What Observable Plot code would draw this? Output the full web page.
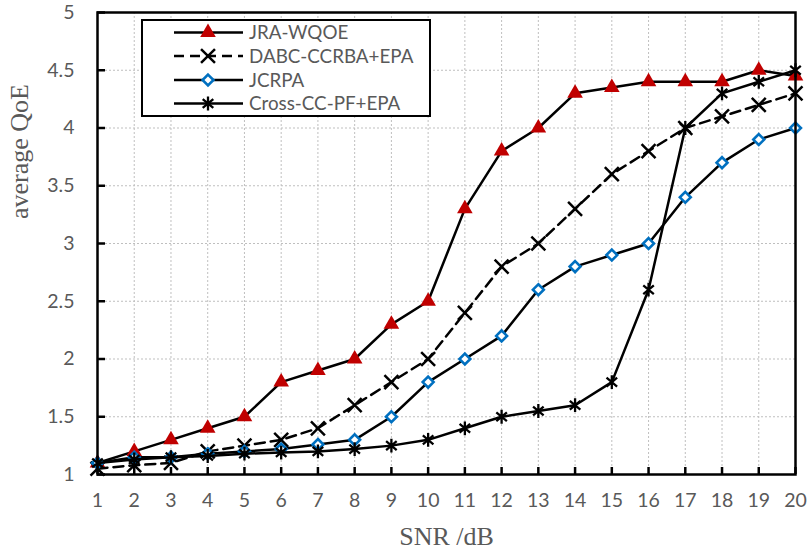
<!DOCTYPE html>
<html>
<head>
<meta charset="utf-8">
<script src="https://cdn.jsdelivr.net/npm/d3@7"></script>
<script src="https://cdn.jsdelivr.net/npm/@observablehq/plot@0.6"></script>
<style>
  html, body { margin: 0; padding: 0; background: #fff; }
</style>
</head>
<body>
<div id="chart"></div>
<script>
// ---- data ----
const snr = [1,2,3,4,5,6,7,8,9,10,11,12,13,14,15,16,17,18,19,20];
const jraWqoe   = [1.10,1.20,1.30,1.40,1.50,1.80,1.90,2.00,2.30,2.50,3.30,3.80,4.00,4.30,4.35,4.40,4.40,4.40,4.50,4.45];
const dabcCcrba = [1.05,1.08,1.10,1.20,1.25,1.30,1.40,1.60,1.80,2.00,2.40,2.80,3.00,3.30,3.60,3.80,4.00,4.10,4.20,4.30];
const jcrpa     = [1.10,1.15,1.15,1.18,1.20,1.22,1.26,1.30,1.50,1.80,2.00,2.20,2.60,2.80,2.90,3.00,3.40,3.70,3.90,4.00];
const crossCc   = [1.10,1.13,1.15,1.16,1.18,1.19,1.20,1.22,1.25,1.30,1.40,1.50,1.55,1.60,1.80,2.60,4.00,4.30,4.40,4.50];
const seriesNames = ["JRA-WQOE","DABC-CCRBA+EPA","JCRPA","Cross-CC-PF+EPA"];
const xTicks = [1,2,3,4,5,6,7,8,9,10,11,12,13,14,15,16,17,18,19,20];
const yTicks = [1,1.5,2,2.5,3,3.5,4,4.5,5];
const xLabel = "SNR /dB";
const yLabel = "average QoE";

// ---- styles ----
const W = 807, H = 557, mL = 97, mR = 12, mT = 12, mB = 83;
const plotW = W - mL - mR, plotH = H - mT - mB;
const gray = "#595959";
const sans = "Lato, 'Open Sans', sans-serif";
const serif = "'Liberation Serif', 'DejaVu Serif', serif";

// asterisk: vertical stroke plus two diagonals
const asteriskSym = {
  draw(context, size) {
    const r = Math.sqrt(size) * 0.59;
    const a = 40 * Math.PI / 180;
    const cx = r * Math.cos(a), cy = r * Math.sin(a);
    context.moveTo(0, -r); context.lineTo(0, r);
    context.moveTo(-cx, -cy); context.lineTo(cx, cy);
    context.moveTo(-cx, cy); context.lineTo(cx, -cy);
  }
};

const styles = [
  {symbol: d3.symbolTriangle, r: 5.8, fill: "#C00000", stroke: "none", sw: 0, dash: null},
  {symbol: d3.symbolTimes, r: 6.4, fill: "none", stroke: "black", sw: 2.5, dash: "10,6"},
  {symbol: d3.symbolDiamond2, r: 4.9, fill: "white", stroke: "#0070C0", sw: 2.6, dash: null},
  {symbol: asteriskSym, r: 6.6, fill: "none", stroke: "black", sw: 2.3, dash: null}
];
const values = [jraWqoe, dabcCcrba, jcrpa, crossCc];
const tables = values.map((vals, i) => snr.map((s, j) => ({snr: s, v: vals[j], series: seriesNames[i]})));

const seriesMarks = tables.flatMap((t, i) => {
  const st = styles[i];
  return [
    Plot.line(t, {x: "snr", y: "v", stroke: "black", strokeWidth: 2.5, strokeDasharray: st.dash, strokeLinejoin: "round"}),
    Plot.dot(t, {x: "snr", y: "v", symbol: st.symbol, r: st.r, fill: st.fill, stroke: st.stroke, strokeWidth: st.sw})
  ];
});

const chart = Plot.plot({
  width: W, height: H,
  marginLeft: mL, marginRight: mR, marginTop: mT, marginBottom: mB,
  x: {domain: [1, 20], axis: null},
  y: {domain: [1, 5], axis: null},
  style: {background: "white", overflow: "visible"},
  marks: [
    Plot.ruleX(xTicks, {x: d => d, stroke: "#bfbfbf", strokeWidth: 1, strokeDasharray: "2,2"}),
    Plot.ruleY(yTicks, {y: d => d, stroke: "#bfbfbf", strokeWidth: 1, strokeDasharray: "2,2"}),
    Plot.tickY(yTicks, {y: d => d, stroke: "black", strokeWidth: 2.5, insetRight: plotW - 8}),
    Plot.tickX(xTicks, {x: d => d, stroke: "black", strokeWidth: 2.5, insetTop: plotH - 7}),
    Plot.text(yTicks, {y: d => d, frameAnchor: "left", dx: -23, textAnchor: "end", text: d => String(d),
      fill: gray, fontSize: 19.5, fontFamily: sans}),
    Plot.text(xTicks, {x: d => d, frameAnchor: "bottom", dy: 32, text: d => String(d),
      fill: gray, fontSize: 19.5, fontFamily: sans}),
    Plot.text([xLabel], {frameAnchor: "bottom", dy: 70, text: d => d, fill: gray, fontSize: 26, fontFamily: serif}),
    Plot.text([yLabel], {frameAnchor: "left", dx: -78, dy: -24.5, rotate: -90, text: d => d, fill: gray, fontSize: 26, fontFamily: serif}),
    ...seriesMarks,
    Plot.frame({stroke: "black", strokeWidth: 2.5})
  ]
});
document.getElementById("chart").appendChild(chart);

// ---- legend ----
const svg = d3.select(chart);
const lg = svg.append("g");
lg.append("rect").attr("x", 142).attr("y", 20).attr("width", 288).attr("height", 96)
  .attr("fill", "white").attr("stroke", "black").attr("stroke-width", 2);
const rowY = [32.5, 56, 80, 103.5];
seriesNames.forEach((name, i) => {
  const st = styles[i], y = rowY[i];
  lg.append("line").attr("x1", 174).attr("x2", 243).attr("y1", y).attr("y2", y)
    .attr("stroke", "black").attr("stroke-width", 2.5).attr("stroke-dasharray", st.dash);
  lg.append("path").attr("transform", `translate(208,${y})`)
    .attr("d", d3.symbol(st.symbol, Math.PI * st.r * st.r)())
    .attr("fill", st.fill).attr("stroke", st.stroke).attr("stroke-width", st.sw || null);
  lg.append("text").attr("x", 249).attr("y", y).attr("dy", "0.36em")
    .attr("text-anchor", "start")
    .attr("fill", gray).attr("font-size", 18.8).attr("font-family", sans).text(name);
});
</script>
</body>
</html>
